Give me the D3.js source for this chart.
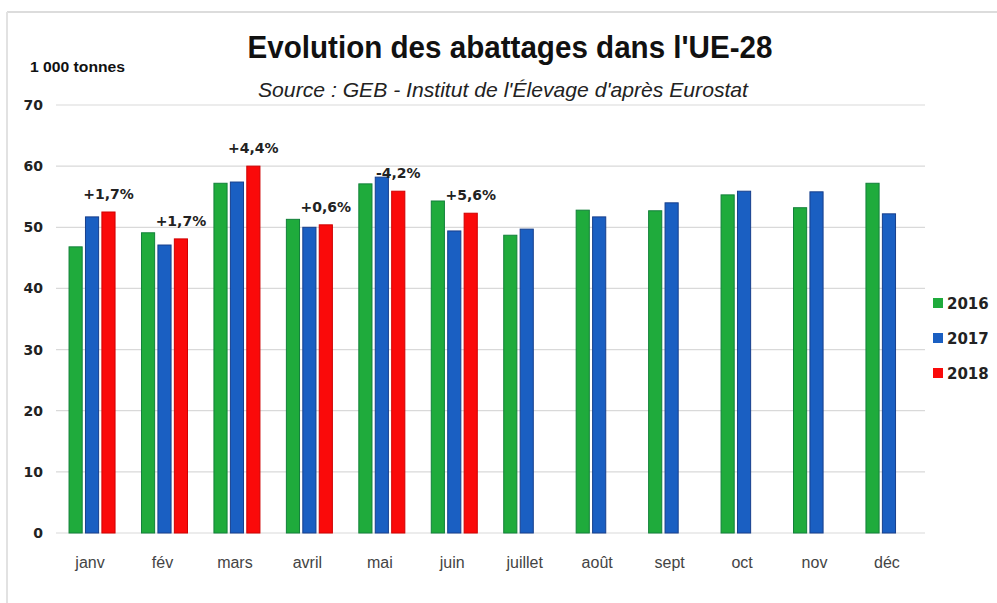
<!DOCTYPE html>
<html>
<head>
<meta charset="utf-8">
<script src="https://cdn.jsdelivr.net/npm/d3@7"></script>
<style>
  html, body { margin: 0; padding: 0; background: #fff; }
  svg { display: block; }
</style>
</head>
<body>
<svg id="chart" width="997" height="603"></svg>
<script>
const months = ["janv", "fév", "mars", "avril", "mai", "juin", "juillet", "août", "sept", "oct", "nov", "déc"];
const years = ["2016", "2017", "2018"];
const v2016 = [46.8, 49.1, 57.2, 51.3, 57.1, 54.3, 48.7, 52.8, 52.7, 55.3, 53.2, 57.2];
const v2017 = [51.7, 47.1, 57.4, 50.0, 58.2, 49.4, 49.7, 51.7, 54.0, 55.9, 55.8, 52.2];
const v2018 = [52.5, 48.1, 60.0, 50.4, 55.9, 52.3, null, null, null, null, null, null];
const changeLabels = ["+1,7%", "+1,7%", "+4,4%", "+0,6%", "-4,2%", "+5,6%", null, null, null, null, null, null];
const yTicks = [0, 10, 20, 30, 40, 50, 60, 70];

const colors = { "2016": "#1fab3c", "2017": "#1a5fc2", "2018": "#fa0a0a" };
const strokes = { "2016": "#12803a", "2017": "#173f8c", "2018": "#d00000" };
const seriesByYear = { "2016": v2016, "2017": v2017, "2018": v2018 };

const svg = d3.select("#chart");

// frame
svg.append("line").attr("x1", 7).attr("x2", 997).attr("y1", 12).attr("y2", 12)
  .attr("stroke", "#dcdcdc").attr("stroke-width", 2);
svg.append("line").attr("x1", 7).attr("x2", 7).attr("y1", 12).attr("y2", 603)
  .attr("stroke", "#e2e2e2").attr("stroke-width", 2);

const x0 = d3.scaleBand().domain(months).range([56, 925]).paddingInner(0.365).paddingOuter(0.18);
const x1 = d3.scaleBand().domain(years).range([0, x0.bandwidth()]).paddingInner(0.2);
const y = d3.scaleLinear().domain([0, 70]).range([533, 105]);

// gridlines
svg.append("g").selectAll("line").data(yTicks).join("line")
  .attr("x1", 56).attr("x2", 925)
  .attr("y1", d => y(d)).attr("y2", d => y(d))
  .attr("stroke", "#d9d9d9").attr("stroke-width", 1.2);

// y tick labels
svg.append("g").selectAll("text").data(yTicks).join("text")
  .attr("x", 43).attr("y", d => y(d) + 5)
  .attr("text-anchor", "end")
  .attr("font-family", "DejaVu Sans, sans-serif").attr("font-weight", "bold")
  .attr("font-size", 14).attr("fill", "#222")
  .text(d => d);

// bars
const flat = [];
months.forEach((m, i) => {
  years.forEach(yr => {
    const v = seriesByYear[yr][i];
    if (v != null) flat.push({ m, yr, v });
  });
});
svg.append("g").selectAll("rect").data(flat).join("rect")
  .attr("x", d => x0(d.m) + x1(d.yr))
  .attr("y", d => y(d.v))
  .attr("width", x1.bandwidth())
  .attr("height", d => y(0) - y(d.v))
  .attr("fill", d => colors[d.yr])
  .attr("stroke", d => strokes[d.yr]).attr("stroke-width", 1);

// change labels above 2018 bars
svg.append("g").selectAll("text").data(months.map((m, i) => ({ m, i })).filter(d => changeLabels[d.i]))
  .join("text")
  .attr("x", d => x0(d.m) + x1("2018") + x1.bandwidth() / 2)
  .attr("y", d => y(v2018[d.i]) - 13)
  .attr("text-anchor", "middle")
  .attr("font-family", "DejaVu Sans, sans-serif").attr("font-weight", "bold")
  .attr("font-size", 14).attr("fill", "#222")
  .text(d => changeLabels[d.i]);

// x labels
svg.append("g").selectAll("text").data(months).join("text")
  .attr("x", d => x0(d) + x0.bandwidth() / 2 - 2)
  .attr("y", 568)
  .attr("text-anchor", "middle")
  .attr("font-family", "Liberation Sans, sans-serif")
  .attr("font-size", 16).attr("fill", "#444")
  .text(d => d);

// title
svg.append("text").attr("x", 510).attr("y", 58).attr("text-anchor", "middle")
  .attr("font-family", "Liberation Sans, sans-serif")
  .attr("font-weight", "bold").attr("font-size", 31).attr("fill", "#111")
  .attr("textLength", 525).attr("lengthAdjust", "spacingAndGlyphs")
  .text("Evolution des abattages dans l'UE-28");

svg.append("text").attr("x", 503).attr("y", 97).attr("text-anchor", "middle")
  .attr("font-family", "Liberation Sans, sans-serif")
  .attr("font-style", "italic").attr("font-size", 21).attr("fill", "#222")
  .attr("textLength", 490).attr("lengthAdjust", "spacingAndGlyphs")
  .text("Source : GEB - Institut de l'Élevage d'après Eurostat");

svg.append("text").attr("x", 30).attr("y", 72)
  .attr("font-family", "Liberation Sans, sans-serif")
  .attr("font-weight", "bold").attr("font-size", 14).attr("fill", "#111")
  .attr("textLength", 95).attr("lengthAdjust", "spacingAndGlyphs")
  .text("1 000 tonnes");

// legend
const legend = svg.append("g").selectAll("g").data(years).join("g")
  .attr("transform", (d, i) => `translate(933, ${303 + i * 35})`);
legend.append("rect").attr("x", 0).attr("y", -5).attr("width", 10).attr("height", 10)
  .attr("fill", d => colors[d]);
legend.append("text").attr("x", 14).attr("y", 6)
  .attr("font-family", "DejaVu Sans, sans-serif").attr("font-weight", "bold")
  .attr("font-size", 15).attr("fill", "#222")
  .text(d => d);
</script>
</body>
</html>
